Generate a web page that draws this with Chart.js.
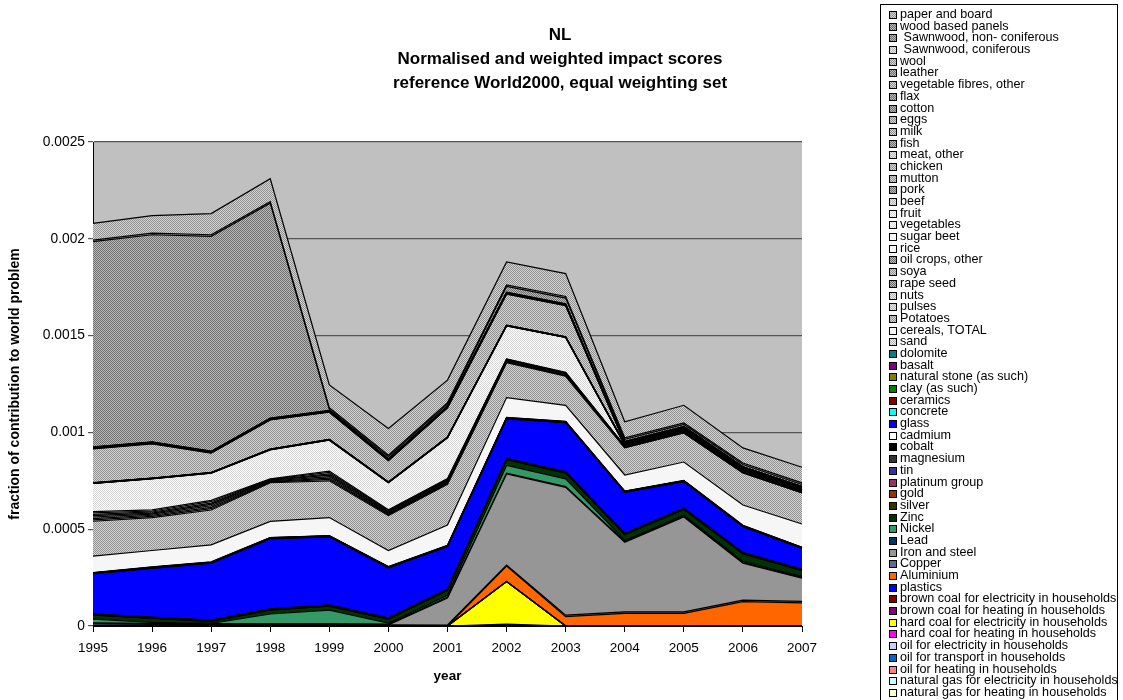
<!DOCTYPE html>
<html>
<head>
<meta charset="utf-8">
<script src="https://cdn.jsdelivr.net/npm/chart.js@4/dist/chart.umd.min.js"></script>
<style>
  body { margin: 0; background: #fff; font-family: "Liberation Sans", Arial, sans-serif; }
  #wrap { position: relative; width: 1123px; height: 700px; overflow: hidden; }
  #title { position: absolute; left: 310px; top: 23px; width: 500px; text-align: center;
           font-weight: bold; font-size: 17px; line-height: 24px; color: #000; }
  #legend { position: absolute; left: 880px; top: 4px; width: 238px; height: 720px;
            border: 1px solid #000; box-sizing: border-box; padding-top: 4px; }
  .item { position: relative; height: 11.69px; line-height: 11.69px; font-size: 12.6px;
          white-space: pre; color: #000; }
  .sw { position: absolute; left: 8px; top: 2px; width: 6px; height: 6px; border: 1px solid #000; }
  .item span { position: absolute; left: 19px; top: 0; }
</style>
</head>
<body>
<div id="wrap">
  <canvas id="chart" width="1123" height="700"></canvas>
  <div id="title">NL<br>Normalised and weighted impact scores<br>reference World2000, equal weighting set</div>
  <div id="legend"></div>
</div>
<script>
// years on the x axis
const years = ["1995","1996","1997","1998","1999","2000","2001","2002","2003","2004","2005","2006","2007"];

// series values (stack order bottom -> top)
const natGasHeating    = [0,0,0,0,0,0,0,0,0,0,0,0,0];
const natGasElec       = [0,0,0,0,0,0,0,0,0,0,0,0,0];
const oilHeating       = [0,0,0,0,0,0,0,0,0,0,0,0,0];
const oilTransport     = [0,0,0,0,0,0,0,0,0,0,0,0,0];
const oilElec          = [0,0,0,0,0,0,0,0,0,0,0,0,0];
const hardCoalHeating  = [0,0,0,0,0,0,0,0.00001,0,0,0,0,0];
const hardCoalElec     = [0,0,0,0,0,0,0,0.00022,0,0,0,0,0];
const brownCoalHeating = [0,0,0,0,0,0,0,0,0,0,0,0,0];
const brownCoalElec    = [0,0,0,0,0,0,0,0,0,0,0,0,0];
const plastics         = [0,0,0,0,0,0,0,0,0,0,0,0,0];
const aluminium        = [0,0,0,0,0,0,0,0.00008,0.000048,0.000065,0.000065,0.000126,0.000119];
const copper           = [0.000012,0.00001,0.000008,0.000008,0.000008,0.000006,0.000005,0.000005,0.000008,0.000008,0.000008,0.000008,0.000008];
const ironSteel        = [0,0,0,0,0,0,0.00014,0.00047,0.00066,0.00036,0.00049,0.00019,0.00012];
const lead             = [0.000004,0.000004,0.000004,0.000004,0.000004,0.000004,0.000004,0.000004,0.000004,0.000004,0.000004,0.000004,0.000004];
const nickel           = [0.00002,0.000005,0.000002,0.00005,0.00007,0.000005,0.00001,0.00004,0.00004,0.000005,0.000005,0.000005,0.000005];
const zinc             = [0.00002,0.00002,0.00001,0.00002,0.00002,0.00002,0.000025,0.00003,0.00003,0.00003,0.00003,0.00004,0.00003];
const silver           = [0.000001,0.000001,0.000001,0.000001,0.000001,0.000001,0.000001,0.000001,0.000001,0.000001,0.000001,0.000001,0.000001];
const gold             = [0.000001,0.000001,0.000001,0.000001,0.000001,0.000001,0.000001,0.000001,0.000001,0.000001,0.000001,0.000001,0.000001];
const platinum         = [0.000001,0.000001,0.000001,0.000001,0.000001,0.000001,0.000001,0.000001,0.000001,0.000001,0.000001,0.000001,0.000001];
const tin              = [0.000001,0.000001,0.000001,0.000001,0.000001,0.000001,0.000001,0.000001,0.000001,0.000001,0.000001,0.000001,0.000001];
const magnesium        = [0.000001,0.000001,0.000001,0.000001,0.000001,0.000001,0.000001,0.000001,0.000001,0.000001,0.000001,0.000001,0.000001];
const cobalt           = [0.000001,0.000001,0.000001,0.000001,0.000001,0.000001,0.000001,0.000001,0.000001,0.000001,0.000001,0.000001,0.000001];
const cadmium          = [0.000001,0.000001,0.000001,0.000001,0.000001,0.000001,0.000001,0.000001,0.000001,0.000001,0.000001,0.000001,0.000001];
const glass            = [0.000206,0.000252,0.000293,0.000361,0.000351,0.000258,0.000219,0.000204,0.000253,0.000211,0.000136,0.000133,0.000107];
const concrete         = [0.000001,0.000001,0.000001,0.000001,0.000001,0.000001,0.000001,0.000001,0.000001,0.000001,0.000001,0.000001,0.000001];
const ceramics         = [0.000001,0.000001,0.000001,0.000001,0.000001,0.000001,0.000001,0.000001,0.000001,0.000001,0.000001,0.000001,0.000001];
const clay             = [0.000001,0.000001,0.000001,0.000001,0.000001,0.000001,0.000001,0.000001,0.000001,0.000001,0.000001,0.000001,0.000001];
const naturalStone     = [0.000001,0.000001,0.000001,0.000001,0.000001,0.000001,0.000001,0.000001,0.000001,0.000001,0.000001,0.000001,0.000001];
const basalt           = [0.000001,0.000001,0.000001,0.000001,0.000001,0.000001,0.000001,0.000001,0.000001,0.000001,0.000001,0.000001,0.000001];
const dolomite         = [0.000001,0.000001,0.000001,0.000001,0.000001,0.000001,0.000001,0.000001,0.000001,0.000001,0.000001,0.000001,0.000001];
const sand             = [0.000001,0.000001,0.000001,0.000001,0.000001,0.000001,0.000001,0.000001,0.000001,0.000001,0.000001,0.000001,0.000001];
const cereals          = [0.000085,0.000085,0.000088,0.000083,0.000093,0.000083,0.000105,0.000103,0.000083,0.000083,0.000095,0.000105,0.00012];
const potatoes         = [0.00018,0.00017,0.00018,0.0002,0.00019,0.00018,0.00021,0.00018,0.00015,0.00014,0.00015,0.000165,0.00016];
const pulses           = [0.000007,0.000006,0.000007,0.000003,0.000007,0.000004,0.000004,0.000003,0.000003,0.0000015,0.0000015,0.0000015,0.0000015];
const nuts             = [0.000007,0.000006,0.000007,0.000003,0.000007,0.000004,0.000004,0.000003,0.000003,0.0000015,0.0000015,0.0000015,0.0000015];
const rapeSeed         = [0.000008,0.000006,0.000008,0.000003,0.000008,0.000005,0.000005,0.000003,0.000003,0.0000015,0.0000015,0.0000015,0.0000015];
const soya             = [0.000007,0.000005,0.000007,0.000003,0.000007,0.000004,0.000004,0.000003,0.000003,0.0000015,0.0000015,0.0000015,0.0000015];
const oilCrops         = [0.000007,0.000006,0.000007,0.000003,0.000007,0.000005,0.000005,0.000003,0.000003,0.0000015,0.0000015,0.0000015,0.0000015];
const rice             = [0.000007,0.000005,0.000007,0.000003,0.000007,0.000004,0.000004,0.000003,0.000003,0.0000015,0.0000015,0.0000015,0.0000015];
const sugarBeet        = [0.000007,0.000006,0.000007,0.000002,0.000007,0.000004,0.000004,0.000002,0.000002,0.000001,0.000001,0.000001,0.000001];
const vegetables       = [0.000145,0.00016,0.00014,0.00015,0.00016,0.00014,0.00021,0.00017,0.00018,0.000005,0.000005,0.000005,0.000005];
const fruit            = [0.0000006,0.0000006,0.0000006,0.0000006,0.0000006,0.0000006,0.0000006,0.0000006,0.0000006,0.0000006,0.0000006,0.0000006,0.0000006];
const beef             = [0.0000006,0.0000006,0.0000006,0.0000006,0.0000006,0.0000006,0.0000006,0.0000006,0.0000006,0.0000006,0.0000006,0.0000006,0.0000006];
const pork             = [0.0000006,0.0000006,0.0000006,0.0000006,0.0000006,0.0000006,0.0000006,0.0000006,0.0000006,0.0000006,0.0000006,0.0000006,0.0000006];
const mutton           = [0.0000006,0.0000006,0.0000006,0.0000006,0.0000006,0.0000006,0.0000006,0.0000006,0.0000006,0.0000006,0.0000006,0.0000006,0.0000006];
const chicken          = [0.0000006,0.0000006,0.0000006,0.0000006,0.0000006,0.0000006,0.0000006,0.0000006,0.0000006,0.0000006,0.0000006,0.0000006,0.0000006];
const meatOther        = [0.0000006,0.0000006,0.0000006,0.0000006,0.0000006,0.0000006,0.0000006,0.0000006,0.0000006,0.0000006,0.0000006,0.0000006,0.0000006];
const fish             = [0.0000006,0.0000006,0.0000006,0.0000006,0.0000006,0.0000006,0.0000006,0.0000006,0.0000006,0.0000006,0.0000006,0.0000006,0.0000006];
const milk             = [0.000175,0.000177,0.0001,0.00015,0.00014,0.00011,0.00015,0.00016,0.00016,0.000005,0.000005,0.000005,0.000005];
const eggs             = [0.0000014,0.0000014,0.0000014,0.0000014,0.0000014,0.0000014,0.0000014,0.0000014,0.0000014,0.0000014,0.0000014,0.0000014,0.0000014];
const cotton           = [0.0000014,0.0000014,0.0000014,0.0000014,0.0000014,0.0000014,0.0000014,0.0000014,0.0000014,0.0000014,0.0000014,0.0000014,0.0000014];
const flax             = [0.0000014,0.0000014,0.0000014,0.0000014,0.0000014,0.0000014,0.0000014,0.0000014,0.0000014,0.0000014,0.0000014,0.0000014,0.0000014];
const vegFibres        = [0.0000014,0.0000014,0.0000014,0.0000014,0.0000014,0.0000014,0.0000014,0.0000014,0.0000014,0.0000014,0.0000014,0.0000014,0.0000014];
const leather          = [0.0000014,0.0000014,0.0000014,0.0000014,0.0000014,0.0000014,0.0000014,0.0000014,0.0000014,0.0000014,0.0000014,0.0000014,0.0000014];
const wool             = [0.0000014,0.0000014,0.0000014,0.0000014,0.0000014,0.0000014,0.0000014,0.0000014,0.0000014,0.0000014,0.0000014,0.0000014,0.0000014];
const sawnConif        = [0.0000014,0.0000014,0.0000014,0.0000014,0.0000014,0.0000014,0.0000014,0.0000014,0.0000014,0.0000014,0.0000014,0.0000014,0.0000014];
const sawnNonConif     = [0.00106,0.00107,0.00111,0.00111,0.000005,0.00001,0.00001,0.00003,0.00003,0.00001,0.00001,0.00001,0.00001];
const woodPanels       = [0.000008,0.000008,0.000008,0.000008,0.000008,0.000008,0.000008,0.000008,0.000008,0.000008,0.000008,0.000008,0.000008];
const paperBoard       = [0.000087,0.000091,0.000109,0.000118,0.000118,0.000138,0.000116,0.000118,0.000118,0.000083,0.000091,0.000078,0.000081];

// fill patterns: [dot colour, base colour]
const patterns = {
  dark:   ["#6e6e6e", "#bababa"],
  mid:    ["#909090", "#d4d4d4"],
  light:  ["#b4b4b4", "#ececec"],
  vlight: ["#d6d6d6", "#ffffff"],
  white:  ["#f6f6f6", "#f6f6f6"]
};

// name, values, fill (pattern key or colour) - bottom of stack first
const series = [
  ["natural gas for heating in households", natGasHeating, "#ffffcc"],
  ["natural gas for electricity in households", natGasElec, "#ccffff"],
  ["oil for heating in households", oilHeating, "#ff8080"],
  ["oil for transport in households", oilTransport, "#0066cc"],
  ["oil for electricity in households", oilElec, "#ccccff"],
  ["hard coal for heating in households", hardCoalHeating, "#ff00ff"],
  ["hard coal for electricity in households", hardCoalElec, "#ffff00"],
  ["brown coal for heating in households", brownCoalHeating, "#800080"],
  ["brown coal for electricity in households", brownCoalElec, "#800000"],
  ["plastics", plastics, "#0000ff"],
  ["Aluminium", aluminium, "#ff6600"],
  ["Copper", copper, "#666699"],
  ["Iron and steel", ironSteel, "#969696"],
  ["Lead", lead, "#003366"],
  ["Nickel", nickel, "#339966"],
  ["Zinc", zinc, "#003300"],
  ["silver", silver, "#333300"],
  ["gold", gold, "#993300"],
  ["platinum group", platinum, "#993366"],
  ["tin", tin, "#333399"],
  ["magnesium", magnesium, "#333333"],
  ["cobalt", cobalt, "#000000"],
  ["cadmium", cadmium, "#ffffff"],
  ["glass", glass, "#0000ff"],
  ["concrete", concrete, "#00ffff"],
  ["ceramics", ceramics, "#800000"],
  ["clay (as such)", clay, "#008000"],
  ["natural stone (as such)", naturalStone, "#808000"],
  ["basalt", basalt, "#800080"],
  ["dolomite", dolomite, "#008080"],
  ["sand", sand, "light"],
  ["cereals, TOTAL", cereals, "white"],
  ["Potatoes", potatoes, "mid"],
  ["pulses", pulses, "light"],
  ["nuts", nuts, "light"],
  ["rape seed", rapeSeed, "dark"],
  ["soya", soya, "mid"],
  ["oil crops, other", oilCrops, "dark"],
  ["rice", rice, "white"],
  ["sugar beet", sugarBeet, "white"],
  ["vegetables", vegetables, "vlight"],
  ["fruit", fruit, "vlight"],
  ["beef", beef, "light"],
  ["pork", pork, "dark"],
  ["mutton", mutton, "mid"],
  ["chicken", chicken, "mid"],
  ["meat, other", meatOther, "light"],
  ["fish", fish, "dark"],
  ["milk", milk, "mid"],
  ["eggs", eggs, "mid"],
  ["cotton", cotton, "dark"],
  ["flax", flax, "dark"],
  ["vegetable fibres, other", vegFibres, "mid"],
  ["leather", leather, "dark"],
  ["wool", wool, "mid"],
  [" Sawnwood, coniferous", sawnConif, "light"],
  [" Sawnwood, non- coniferous", sawnNonConif, "dark"],
  ["wood based panels", woodPanels, "dark"],
  ["paper and board", paperBoard, "mid"]
];

function makePattern(key) {
  const [dot, base] = patterns[key];
  const c = document.createElement("canvas");
  c.width = 2; c.height = 2;
  const g = c.getContext("2d");
  g.fillStyle = base; g.fillRect(0, 0, 2, 2);
  g.fillStyle = dot; g.fillRect(0, 0, 1, 1); g.fillRect(1, 1, 1, 1);
  return g.createPattern(c, "repeat");
}

function fillFor(f) {
  return patterns[f] ? makePattern(f) : f;
}

function swatchCss(f) {
  if (!patterns[f]) return "background:" + f;
  const [dot, base] = patterns[f];
  return "background:repeating-conic-gradient(" + dot + " 0% 25%, " + base + " 0% 50%) 0 0/2px 2px";
}

// legend, top of the stack first
const legend = document.getElementById("legend");
series.slice().reverse().forEach(s => {
  const d = document.createElement("div");
  d.className = "item";
  d.innerHTML = '<i class="sw" style="' + swatchCss(s[2]) + '"></i><span></span>';
  d.querySelector("span").textContent = s[0];
  legend.appendChild(d);
});

const plotBg = {
  id: "plotBg",
  beforeDraw(chart) {
    const a = chart.chartArea, ctx = chart.ctx;
    ctx.save();
    ctx.fillStyle = "#c0c0c0";
    ctx.fillRect(a.left, a.top, a.right - a.left, a.bottom - a.top);
    ctx.restore();
  }
};

new Chart(document.getElementById("chart"), {
  type: "line",
  data: {
    labels: years,
    datasets: series.map((s, i) => ({
      label: s[0],
      data: s[1],
      backgroundColor: fillFor(s[2]),
      borderColor: "#000",
      borderWidth: 1.2,
      pointRadius: 0,
      tension: 0,
      fill: i === 0 ? "origin" : "-1"
    }))
  },
  options: {
    responsive: false,
    animation: false,
    layout: { padding: { top: 142, right: 321, left: 0, bottom: 0 } },
    plugins: {
      legend: { display: false },
      tooltip: { enabled: false },
      filler: { drawTime: "beforeDatasetsDraw" }
    },
    scales: {
      x: {
        offset: false,
        grid: { drawOnChartArea: false, drawTicks: true, tickLength: 6, color: "#000" },
        border: { color: "#000", width: 1 },
        ticks: { color: "#000", font: { family: "Liberation Sans", size: 13.5 }, padding: 8, maxRotation: 0 },
        title: { display: true, text: "year", color: "#000", font: { family: "Liberation Sans", size: 13.5, weight: "bold" }, padding: { top: 6, bottom: 16 } },
        afterFit(scale) { scale.height = 74; }
      },
      y: {
        stacked: true,
        min: 0,
        max: 0.0025,
        grid: { color: "#555", lineWidth: 1.2, tickLength: 5 },
        border: { color: "#000", width: 1 },
        ticks: {
          stepSize: 0.0005,
          color: "#000",
          padding: 3,
          font: { family: "Liberation Sans", size: 13.8 },
          callback: v => parseFloat(v.toFixed(4)).toString()
        },
        title: { display: true, text: "fraction of contribution to world problem", color: "#000", font: { family: "Liberation Sans", size: 14, weight: "bold" }, padding: { top: 7, bottom: 0 } },
        afterFit(scale) { scale.width = 93; }
      }
    }
  },
  plugins: [plotBg]
});
</script>
</body>
</html>
